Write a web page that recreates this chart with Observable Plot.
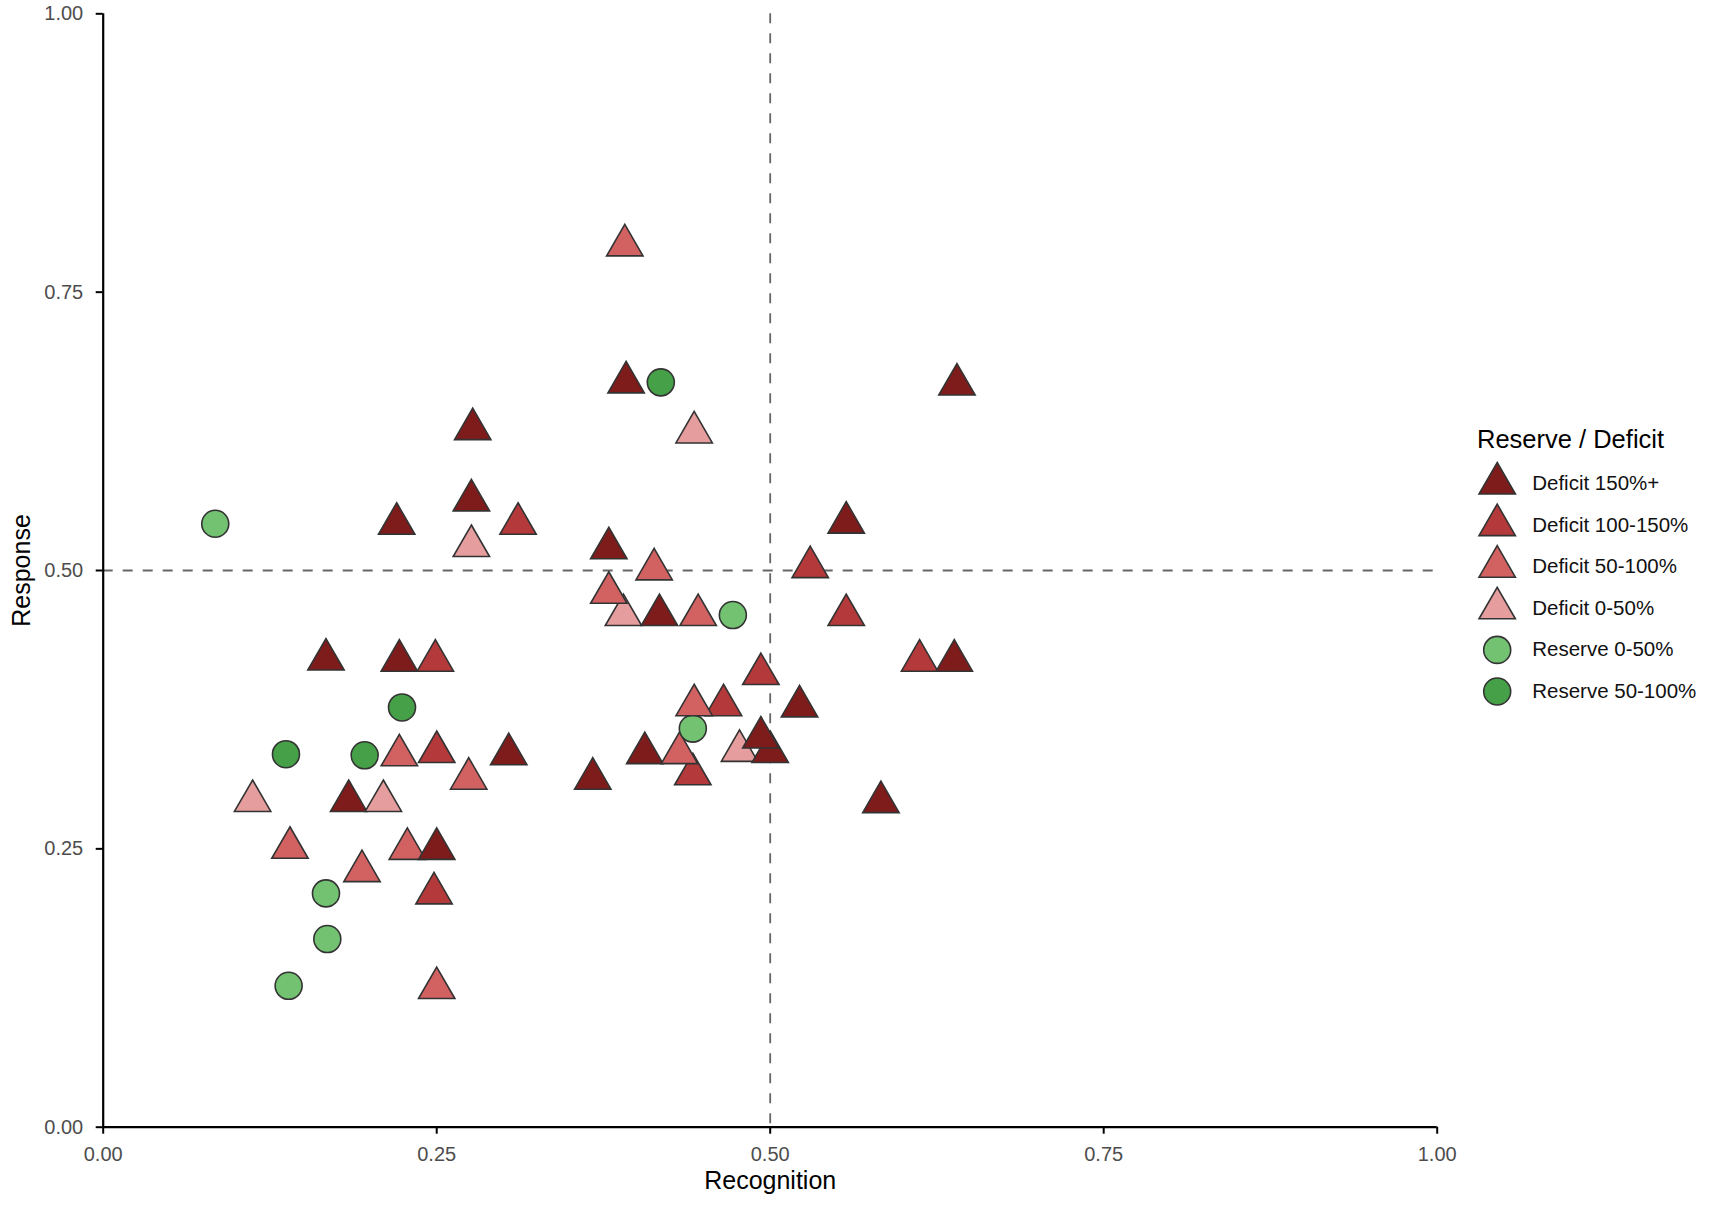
<!DOCTYPE html>
<html>
<head>
<meta charset="utf-8">
<script src="https://cdn.jsdelivr.net/npm/d3@7"></script>
<script src="https://cdn.jsdelivr.net/npm/@observablehq/plot@0.6"></script>
<style>
  html, body { margin: 0; padding: 0; background: #fff; }
  #wrap { position: relative; width: 1726px; height: 1208px; font-family: "Liberation Sans", Arial, sans-serif; }
  #main { position: absolute; left: 0; top: 0; }
  #legend { position: absolute; left: 1477px; top: 424px; width: 249px; }
  #legend-title { font-size: 25.5px; line-height: 30px; color: #000; white-space: nowrap; }
  #legend-plot { position: absolute; left: 0; top: 30px; }
</style>
</head>
<body>
<div id="wrap">
  <div id="main"></div>
  <div id="legend">
    <div id="legend-title">Reserve / Deficit</div>
    <div id="legend-plot"></div>
  </div>
</div>
<script>
// ---- categories and styles ----
const categories = ["Deficit 150%+", "Deficit 100-150%", "Deficit 50-100%", "Deficit 0-50%", "Reserve 0-50%", "Reserve 50-100%"];
const fills = ["#7e1c1c", "#b3393a", "#d26262", "#e59d9d", "#72c272", "#45a047"];
const shapes = ["triangle", "triangle", "triangle", "triangle", "circle", "circle"];

// ---- data (drawing order matters for overlaps) ----
const recognition = [
  0.084, 0.112, 0.137, 0.139, 0.140, 0.167, 0.167, 0.168, 0.184, 0.194,
  0.196, 0.210, 0.220, 0.222, 0.222, 0.224, 0.228, 0.248, 0.249, 0.250,
  0.250, 0.250, 0.274, 0.276, 0.276, 0.277, 0.304, 0.311, 0.367, 0.390,
  0.379, 0.379, 0.391, 0.392, 0.406, 0.413, 0.417, 0.418, 0.442, 0.432,
  0.442, 0.443, 0.465, 0.443, 0.446, 0.472, 0.477, 0.493, 0.500, 0.493,
  0.522, 0.530, 0.557, 0.557, 0.583, 0.612, 0.638, 0.640
];
const response = [
  0.542, 0.293, 0.335, 0.127, 0.251, 0.420, 0.210, 0.169, 0.293, 0.230,
  0.334, 0.293, 0.542, 0.419, 0.334, 0.377, 0.250, 0.210, 0.419, 0.337,
  0.250, 0.125, 0.313, 0.522, 0.563, 0.627, 0.335, 0.542, 0.313, 0.460,
  0.480, 0.520, 0.792, 0.669, 0.336, 0.501, 0.460, 0.669, 0.317, 0.336,
  0.358, 0.624, 0.379, 0.379, 0.460, 0.460, 0.338, 0.407, 0.337, 0.350,
  0.378, 0.503, 0.543, 0.460, 0.292, 0.419, 0.419, 0.667
];
const groupIndex = [
  4, 3, 5, 4, 2, 0, 4, 4, 0, 2,
  5, 3, 0, 0, 2, 5, 2, 1, 1, 1,
  0, 2, 2, 3, 0, 0, 0, 1, 0, 3,
  2, 0, 2, 0, 0, 2, 0, 5, 1, 2,
  4, 3, 1, 2, 2, 4, 3, 1, 0, 0,
  0, 1, 0, 1, 0, 1, 0, 0
];

const xTicks = [0, 0.25, 0.5, 0.75, 1];
const yTicks = [0, 0.25, 0.5, 0.75, 1];
const refX = [0.5];
const refY = [0.5];
const xTitle = "Recognition";
const yTitle = "Response";

const points = recognition.map((x, i) => ({x, y: response[i], group: categories[groupIndex[i]]}));

const fmt = d3.format(".2f");
const font = "'Liberation Sans', Arial, sans-serif";

const main = Plot.plot({
  width: 1460,
  height: 1208,
  marginLeft: 102.7,
  marginRight: 23.3,
  marginTop: 13.3,
  marginBottom: 81.3,
  style: {fontFamily: font, fontSize: "20px", background: "#fff", overflow: "visible"},
  x: {domain: [0, 1], ticks: xTicks, tickFormat: fmt},
  y: {domain: [0, 1], ticks: yTicks, tickFormat: fmt},
  symbol: {domain: categories, range: shapes},
  color: {domain: categories, range: fills},
  marks: [
    Plot.ruleX(refX, {stroke: "#666", strokeWidth: 1.8, strokeDasharray: "10,10"}),
    Plot.ruleY(refY, {stroke: "#666", strokeWidth: 1.8, strokeDasharray: "10,10"}),
    Plot.axisX({ticks: xTicks, tickFormat: fmt, tickSize: 7, tickPadding: 13, stroke: "#000", strokeWidth: 2, fill: "#4d4d4d", fontSize: 20, label: null}),
    Plot.axisY({ticks: yTicks, tickFormat: fmt, tickSize: 7, tickPadding: 13, stroke: "#000", strokeWidth: 2, fill: "#4d4d4d", fontSize: 20, label: null}),
    Plot.ruleX([0], {stroke: "#000", strokeWidth: 2.2}),
    Plot.ruleY([0], {stroke: "#000", strokeWidth: 2.2}),
    Plot.dot(points, {x: "x", y: "y", symbol: "group", fill: "group", r: 13.5, stroke: "#333", strokeWidth: 1.6}),
    Plot.text([xTitle], {text: d => d, frameAnchor: "bottom", lineAnchor: "middle", textAnchor: "middle", dy: 54, fontSize: 25, fill: "#000"}),
    Plot.text([yTitle], {text: d => d, frameAnchor: "left", lineAnchor: "middle", textAnchor: "middle", dx: -81, rotate: -90, fontSize: 25, fill: "#000"})
  ]
});
document.getElementById("main").appendChild(main);

const legendRows = categories.map((c, i) => ({c, i}));
const legend = Plot.plot({
  width: 249,
  height: 270,
  marginLeft: 19.7,
  marginRight: 0,
  marginTop: 29,
  marginBottom: 33,
  style: {fontFamily: font, background: "transparent", overflow: "visible"},
  x: {domain: [0, 1], axis: null},
  y: {domain: [0, categories.length - 1], reverse: true, axis: null},
  symbol: {domain: categories, range: shapes},
  color: {domain: categories, range: fills},
  marks: [
    Plot.dot(legendRows, {x: 0, y: "i", symbol: "c", fill: "c", r: 13.5, stroke: "#333", strokeWidth: 1.6}),
    Plot.text(legendRows, {x: 0, y: "i", text: "c", dx: 35, textAnchor: "start", fontSize: 20.5, fill: "#111"})
  ]
});
document.getElementById("legend-plot").appendChild(legend);
</script>
</body>
</html>
